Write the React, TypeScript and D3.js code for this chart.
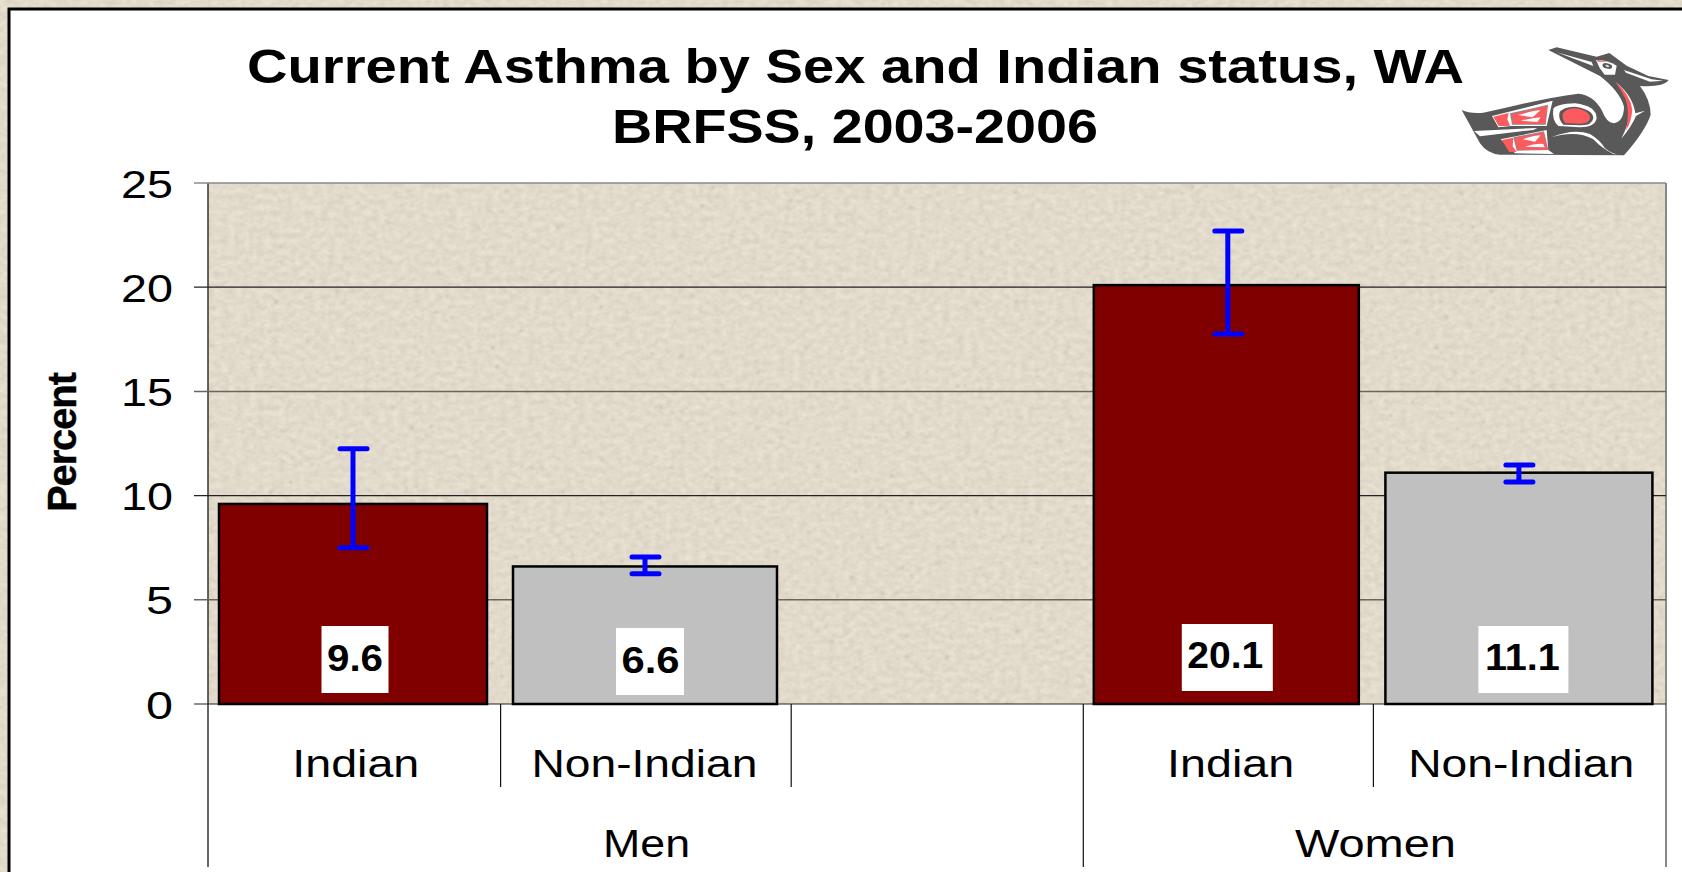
import React from "react";
import * as d3 from "d3";

const W = 1682, H = 872;
const FONT = "'Liberation Sans', Arial, sans-serif";

const slots = ["Men-Indian", "Men-Non-Indian", "gap", "Women-Indian", "Women-Non-Indian"];
const barSlots = ["Men-Indian", "Men-Non-Indian", "Women-Indian", "Women-Non-Indian"];
const subLabels = ["Indian", "Non-Indian", "Indian", "Non-Indian"];
const values = [9.6, 6.6, 20.1, 11.1];
const lower = [7.5, 6.25, 17.75, 10.65];
const upper = [12.25, 7.05, 22.7, 11.47];
const barColors = ["#800000", "#c0c0c0", "#800000", "#c0c0c0"];
const groups = ["Men", "Women"];
const yTicks = [0, 5, 10, 15, 20, 25];

const x = d3.scaleBand<string>().domain(slots).range([208, 1666]);
const y = d3.scaleLinear().domain([0, 25]).range([704, 183]);
const barWidths = [268, 264, 265, 267];
const barOffsets = [11, 13.4, 11, 11];
const errNudge = [0, 0, 1.5, 0];
const boxNudge = [2, 5, 1, 4.5];
const labelNudge = [2, 5.5, -1, 3.5];
const subWidths = [127, 226, 127, 226];
const subNudge = [2, -1, 2, 1];
const sepNudge = [0, 1, 0, 0.5, -1];
const boxes = [
  { w: 67, dy: -78, base: -33 },
  { w: 68, dy: -76, base: -31 },
  { w: 91, dy: -80, base: -36 },
  { w: 90, dy: -78, base: -34 },
];
const valueWidths = [56, 58, 76, 75];
const gridColor = (t: number) => (t === 25 ? "#8a8a8a" : t === 15 || t === 5 ? "#6a665f" : "#222");

function Logo() {
  const g = "#595959", r = "#fb5a5f";
  return (
    <g transform="translate(1400,0) scale(0.3333)">
      <path fill={g} d="M445 150 L470 142 L590 170 L628 159 L680 197 L745 228 L806 240 Q790 262 720 258 Q752 300 752 345 Q735 395 672 466 L300 464 Q262 462 240 430 L185 330 Q210 342 250 338 L340 318 Q450 292 535 281 Q580 285 605 330 Q620 368 640 370 Q672 365 672 320 Q660 275 600 228 Z" />
      <path fill="#fff" d="M470 157 L575 186 L580 198 Z" />
      <path fill="#fff" d="M588 180 Q625 180 650 197 L645 224 L614 224 Q597 205 588 180 Z" />
      <path fill={r} d="M590 180 Q605 180 622 185 L594 185 Z" />
      <ellipse cx={622} cy={198} rx={15} ry={8} fill={g} transform="rotate(15 622 198)" />
      <ellipse cx={622} cy={198} rx={6} ry={3} fill="#ddd" transform="rotate(15 622 198)" />
      <path fill="#fff" d="M672 210 L755 238 L790 242 L750 245 L678 218 Z" />
      <path fill="#fff" d="M650 248 Q700 290 706 340 L735 332 L708 348 Q695 380 664 416 Q688 370 690 330 Q680 285 650 248 Z" />
      <path fill={r} d="M645 243 Q692 285 697 330 Q694 365 678 392 Q690 335 677 298 Q665 272 645 243 Z" />
      <path fill="#fff" d="M276 348 L458 302 L440 378 L335 378 L295 382 Z" />
      <path fill={r} d="M280 350 L326 339 L322 358 L330 378 L296 378 Z" />
      <path fill={g} d="M330 340 L444 314 L437 374 L336 374 Z" opacity={0.7} />
      <path fill={r} d="M335 343 L442 318 L436 371 L339 373 Z" />
      <path fill="#fff" d="M355 345 Q400 332 422 330 L398 352 Z M362 362 Q395 354 422 352 L412 366 Z" />
      <path fill="#fff" d="M222 393 L412 384 L400 390 L240 409 Z" />
      <path fill="#fff" d="M302 418 L440 390 L445 450 L462 462 L345 460 Z" />
      <path fill={r} d="M305 420 L340 413 L338 438 L350 456 L328 456 Z" />
      <path fill={g} d="M340 412 L432 394 L445 450 L350 452 Z" opacity={0.7} />
      <path fill={r} d="M344 414 L431 397 L443 449 L352 449 Z" />
      <path fill="#fff" d="M368 418 Q400 407 422 406 L405 425 Z M375 440 Q405 430 430 432 L434 442 Z" />
      <path fill="#fff" d="M460 326 Q470 312 525 310 Q590 318 590 355 Q585 382 540 382 L475 378 Q455 360 460 326 Z" />
      <path fill={g} d="M478 340 Q485 320 525 320 Q580 328 580 355 Q575 378 540 376 L490 374 Q475 360 478 340 Z" />
      <path fill={r} d="M488 342 Q496 325 528 325 Q570 332 570 355 Q566 373 538 371 L496 369 Q486 358 488 342 Z" />
      <path fill="#fff" d="M455 412 Q520 385 570 402 Q600 420 615 445 Q640 465 665 466 L640 462 Q605 445 580 418 Q530 390 455 412 Z" />
    </g>
  );
}

export default function App() {
  const text = { fontFamily: FONT, fill: "#000" } as const;
  return (
    <svg width={W} height={H} viewBox={`0 0 ${W} ${H}`} style={{ position: "fixed", left: 0, top: 0, display: "block" }}>
      <defs>
        <filter id="paper" x="0" y="0" width="100%" height="100%" colorInterpolationFilters="sRGB">
          <feTurbulence type="fractalNoise" baseFrequency="0.14 0.18" numOctaves={2} seed={11} />
          <feColorMatrix type="matrix" values="0.1 0 0 0 0.836  0.1 0 0 0 0.805  0.1 0 0 0 0.746  0 0 0 0 1" />
          <feGaussianBlur stdDeviation="0.6" />
        </filter>
        <filter id="speck" x="0" y="0" width="100%" height="100%" colorInterpolationFilters="sRGB">
          <feTurbulence type="fractalNoise" baseFrequency="0.2" numOctaves={3} seed={4} />
          <feColorMatrix type="matrix" values="0 0 0 0 0.55  0 0 0 0 0.52  0 0 0 0 0.46  9 0 0 0 -6.4" />
          <feGaussianBlur stdDeviation="0.8" />
        </filter>
      </defs>
      <rect width={W} height={H} filter="url(#paper)" />
      <rect x={9} y={9} width={W} height={H} fill="#fff" stroke="#000" strokeWidth={3} />

      <text {...text} x={247} y={83} fontSize={48} fontWeight="bold" textLength={1217} lengthAdjust="spacingAndGlyphs">Current Asthma by Sex and Indian status, WA</text>
      <text {...text} x={612} y={143} fontSize={48} fontWeight="bold" textLength={486} lengthAdjust="spacingAndGlyphs">BRFSS, 2003-2006</text>
      <Logo />

      <rect x={208} y={y(25)} width={1458} height={y(0) - y(25)} filter="url(#paper)" />
      <rect x={208} y={y(25)} width={1458} height={y(0) - y(25)} filter="url(#speck)" opacity={0.3} />
      <line x1={208} x2={208} y1={y(25)} y2={867} stroke="#333" strokeWidth={1.5} />
      <line x1={1666} x2={1666} y1={y(25)} y2={867} stroke="#888" strokeWidth={2} />

      {yTicks.map((t) => (
        <g key={t}>
          <line x1={194} x2={1666} y1={y(t)} y2={y(t)} stroke={gridColor(t)} strokeWidth={t === 25 || t === 15 || t === 5 ? 1.5 : 1.2} />
          <text {...text} x={173} y={y(t) + 14.5} fontSize={38} textAnchor="end" textLength={t === 0 || t === 5 ? 27 : 52} lengthAdjust="spacingAndGlyphs">{t}</text>
        </g>
      ))}

      <text {...text} transform="translate(76,512) rotate(-90)" fontSize={40} fontWeight="bold" stroke="#000" strokeWidth={0.4} textLength={140} lengthAdjust="spacing">Percent</text>

      {barSlots.map((s, i) => {
        const bx = (x(s) as number) + barOffsets[i];
        const cx = bx + barWidths[i] / 2;
        const ex = cx + errNudge[i];
        const box = boxes[i];
        return (
          <g key={s}>
            <rect x={bx} y={y(values[i])} width={barWidths[i]} height={y(0) - y(values[i])} fill={barColors[i]} stroke="#000" strokeWidth={2.5} />
            <rect x={cx + boxNudge[i] - box.w / 2} y={y(0) + box.dy} width={box.w} height={67} fill="#fff" />
            <text {...text} x={cx + labelNudge[i] - valueWidths[i] / 2} y={y(0) + box.base} fontSize={36} fontWeight="bold" textLength={valueWidths[i]} lengthAdjust="spacingAndGlyphs">{values[i]}</text>
            <g stroke="#0000ff" strokeWidth={5} strokeLinecap="round">
              <line x1={ex} x2={ex} y1={y(upper[i])} y2={y(lower[i])} strokeLinecap="butt" />
              <line x1={ex - 13} x2={ex + 14} y1={y(upper[i])} y2={y(upper[i])} />
              <line x1={ex - 13} x2={ex + 14} y1={y(lower[i])} y2={y(lower[i])} />
            </g>
            <text {...text} x={(x(s) as number) + x.bandwidth() / 2 + subNudge[i] - subWidths[i] / 2} y={777} fontSize={38} textLength={subWidths[i]} lengthAdjust="spacingAndGlyphs">{subLabels[i]}</text>
          </g>
        );
      })}

      {slots.map((s, i) => i > 0 && (
        <line key={s} x1={(x(s) as number) + sepNudge[i]} x2={(x(s) as number) + sepNudge[i]} y1={704} y2={s === "Women-Indian" ? 867 : 787} stroke="#111" strokeWidth={1.2} />
      ))}

      {groups.map((g, i) => (
        <text {...text} key={g} x={i === 0 ? 603 : 1295} y={857} fontSize={38} textLength={i === 0 ? 87 : 161} lengthAdjust="spacingAndGlyphs">{g}</text>
      ))}
    </svg>
  );
}
